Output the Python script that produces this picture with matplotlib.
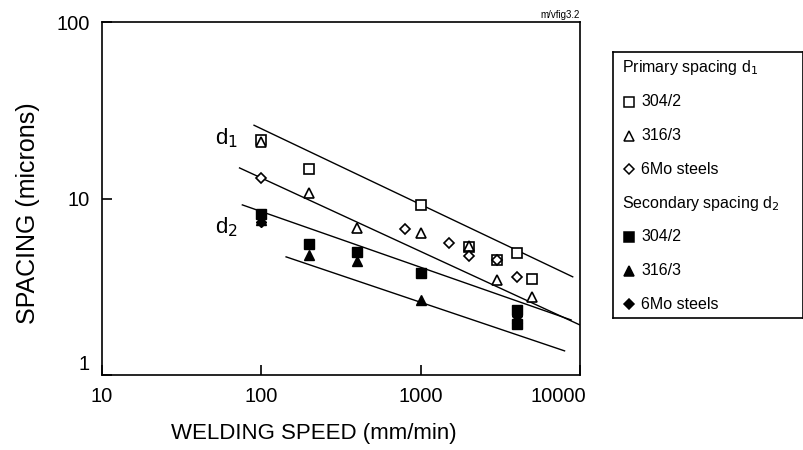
import matplotlib
matplotlib.use("Agg")
import matplotlib.pyplot as plt
import matplotlib.transforms as mtransforms

plt.rcParams['font.family'] = ['Liberation Sans', 'DejaVu Sans']

# primary spacing d1 (open symbols)
prim_304_x = [100, 200, 1000, 2000, 3000, 4000, 5000]
prim_304_y = [21.5, 14.7, 9.2, 5.3, 4.5, 4.9, 3.5]
prim_316_x = [100, 200, 400, 1000, 2000, 3000, 5000]
prim_316_y = [21.0, 10.7, 6.8, 6.4, 5.4, 3.45, 2.75]
prim_6mo_x = [100, 800, 1500, 2000, 3000, 4000]
prim_6mo_y = [13.1, 6.7, 5.6, 4.7, 4.5, 3.6]

# secondary spacing d2 (filled symbols)
sec_304_x = [100, 200, 400, 1000, 4000, 4000]
sec_304_y = [8.2, 5.5, 5.0, 3.8, 2.35, 1.95]
sec_316_x = [100, 200, 400, 1000, 4000]
sec_316_y = [7.6, 4.8, 4.4, 2.65, 2.1]
sec_6mo_x = [100, 4000]
sec_6mo_y = [7.4, 2.15]

# fitted lines (end points)
fit_lines = [
    ([90, 9000], [26, 3.6]),
    ([73, 10000], [14.9, 1.92]),
    ([76, 8800], [9.2, 2.05]),
    ([143, 8000], [4.67, 1.37]),
]

x_ticks = [10, 100, 1000, 10000]
y_ticks = [1, 10, 100]

fig = plt.figure(figsize=(8.04, 4.5), dpi=100)
ax = fig.add_axes([102/804, 1-375/450, 478/804, 353/450])

for fx, fy in fit_lines:
    ax.plot(fx, fy, color='black', lw=1.0)

ms = 7
ax.plot(prim_304_x, prim_304_y, 's', ms=ms, mfc='white', mec='black', mew=1.2)
ax.plot(prim_316_x, prim_316_y, '^', ms=ms, mfc='white', mec='black', mew=1.2)
ax.plot(prim_6mo_x, prim_6mo_y, 'D', ms=5.5, mfc='white', mec='black', mew=1.2)
ax.plot(sec_304_x, sec_304_y, 's', ms=ms, color='black')
ax.plot(sec_316_x, sec_316_y, '^', ms=ms, color='black')
ax.plot(sec_6mo_x, sec_6mo_y, 'D', ms=5.5, color='black')

ax.set_xscale('log')
ax.set_yscale('log')
ax.set_xlim(10, 10000)
ax.set_ylim(1, 100)
ax.set_xticks(x_ticks, labels=[str(v) for v in x_ticks])
ax.set_yticks(y_ticks, labels=[str(v) for v in y_ticks])
ax.minorticks_off()
ax.tick_params(direction='in', length=7, width=1.2, labelsize=14.5,
               top=False, right=False)
ax.tick_params(axis='x', pad=9)
ax.tick_params(axis='y', pad=9)
for s in ax.spines.values():
    s.set_linewidth(1.2)

# nudge the corner labels apart
ylab1 = ax.get_yticklabels()[0]
ylab1.set_transform(ylab1.get_transform() +
                    mtransforms.ScaledTranslation(0, 12/100, fig.dpi_scale_trans))
xlab_end = ax.get_xticklabels()[-1]
xlab_end.set_horizontalalignment('right')
xlab_end.set_transform(xlab_end.get_transform() +
                       mtransforms.ScaledTranslation(6/100, 0, fig.dpi_scale_trans))

ax.set_xlabel('WELDING SPEED (mm/min)', fontsize=16)
ax.set_ylabel('SPACING (microns)', fontsize=18)
ax.xaxis.set_label_coords(0.4435, -0.135)
ax.yaxis.set_label_coords(-0.13, 0.459)

ax.text(60, 22, 'd$_1$', fontsize=16, ha='center', va='center')
ax.text(60, 6.9, 'd$_2$', fontsize=16, ha='center', va='center')
ax.text(1.0, 1.005, 'm/vfig3.2', transform=ax.transAxes, fontsize=7,
        ha='right', va='bottom')

# legend panel
lax = fig.add_axes([613/804, 1-318/450, 190/804, 266/450])
lax.set_xlim(0, 1)
lax.set_ylim(0, 1)
lax.set_xticks([])
lax.set_yticks([])
for s in lax.spines.values():
    s.set_linewidth(1.2)

rows = [
    ('Primary spacing d$_1$', None, None),
    ('304/2', 's', 'white'),
    ('316/3', '^', 'white'),
    ('6Mo steels', 'D', 'white'),
    ('Secondary spacing d$_2$', None, None),
    ('304/2', 's', 'black'),
    ('316/3', '^', 'black'),
    ('6Mo steels', 'D', 'black'),
]
for i, (label, marker, fill) in enumerate(rows):
    yy = 1 - (0.06 + i * 0.127)
    if marker is None:
        lax.text(0.05, yy, label, fontsize=11.5, va='center')
    else:
        lax.plot([0.085], [yy], marker, ms=7 if marker != 'D' else 5.5,
                 mfc=fill, mec='black', mew=1.1)
        lax.text(0.15, yy, label, fontsize=11.5, va='center')

fig.savefig('out.png', dpi=100)
